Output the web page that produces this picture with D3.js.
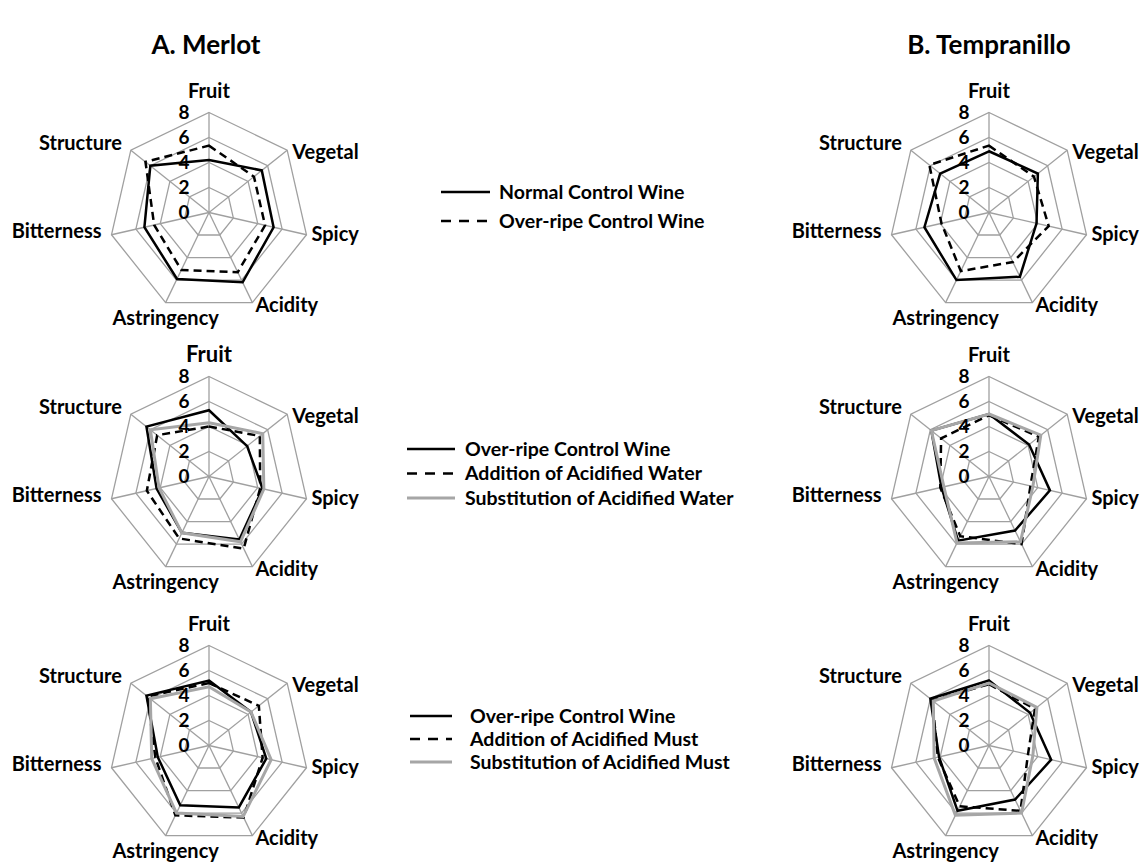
<!DOCTYPE html>
<html>
<head>
<meta charset="utf-8">
<script src="https://cdn.jsdelivr.net/npm/d3@7"></script>
<style>
  body { margin: 0; background: #fff; }
  text { font-family: Lato, "Open Sans", sans-serif; font-weight: bold; fill: #000; }
</style>
</head>
<body>
<svg id="chart_svg" width="1143" height="865"></svg>
<script>
const axes = ["Fruit", "Vegetal", "Spicy", "Acidity", "Astringency", "Bitterness", "Structure"];
const tickValues = [0, 2, 4, 6, 8];

// Merlot
const merlotNormal    = [4.2, 5.4, 5.3, 6.2, 5.9, 5.3, 6.0];
const merlotOverripe  = [5.35, 4.6, 4.6, 5.3, 5.1, 4.5, 6.5];
const merlotOverripe2 = [5.3, 3.9, 4.4, 5.6, 5.0, 4.3, 6.4];
const merlotAddWater  = [4.0, 5.2, 4.2, 6.4, 5.5, 5.1, 5.3];
const merlotSubWater  = [4.3, 5.5, 4.5, 5.8, 5.0, 4.1, 6.0];
const merlotOverripe3 = [5.2, 4.3, 4.7, 5.5, 5.3, 4.2, 6.4];
const merlotAddMust   = [5.0, 5.1, 4.4, 6.4, 6.2, 4.4, 6.3];
const merlotSubMust   = [4.7, 4.3, 5.1, 6.3, 6.0, 4.7, 6.0];

// Tempranillo
const tempNormal    = [4.9, 5.0, 3.9, 5.7, 6.0, 5.3, 5.0];
const tempOverripe  = [5.35, 4.6, 4.9, 4.4, 5.2, 3.9, 6.1];
const tempOverripe2 = [5.0, 4.1, 5.0, 4.8, 5.7, 3.9, 5.9];
const tempAddWater  = [4.9, 5.1, 3.4, 6.0, 5.3, 4.0, 4.9];
const tempSubWater  = [5.0, 5.3, 3.6, 5.8, 5.9, 3.7, 5.9];
const tempOverripe3 = [5.2, 4.2, 5.1, 4.8, 5.8, 4.1, 6.0];
const tempAddMust   = [4.9, 4.7, 3.2, 5.8, 5.4, 4.2, 5.8];
const tempSubMust   = [5.0, 4.9, 3.6, 6.0, 6.2, 4.5, 5.7];

const legend1 = ["Normal Control Wine", "Over-ripe Control Wine"];
const legend2 = ["Over-ripe Control Wine", "Addition of Acidified Water", "Substitution of Acidified Water"];
const legend3 = ["Over-ripe Control Wine", "Addition of Acidified Must", "Substitution of Acidified Must"];

const styles = {
  solid:  { stroke: "#000", width: 2.5, dash: null },
  dashed: { stroke: "#000", width: 2.5, dash: "8,5" },
  gray:   { stroke: "#a6a6a6", width: 3, dash: null }
};

const svg = d3.select("#chart_svg");
const R = 100;
const rScale = d3.scaleLinear().domain([0, 8]).range([0, R]);
const angle = d3.scaleLinear().domain([0, axes.length]).range([0, 2 * Math.PI]);

function point(i, v) {
  const a = angle(i);
  return [Math.sin(a) * rScale(v), -Math.cos(a) * rScale(v)];
}

// label placement per axis: [dx, dy (baseline), anchor]
const labelPos = [
  [0, -15, "middle"],
  [5, 9, "start"],
  [5, 6, "start"],
  [3, 9, "start"],
  [0, 22, "middle"],
  [-10, 3, "end"],
  [-9, 0, "end"]
];

function drawRadar(cx, cy, series, fruitSize) {
  const g = svg.append("g").attr("transform", "translate(" + cx + "," + cy + ")");

  // rings
  tickValues.slice(1).forEach(t => {
    g.append("path")
      .attr("d", d3.line()(axes.map((a, i) => point(i, t))) + "Z")
      .attr("fill", "none")
      .attr("stroke", "#a0a0a0")
      .attr("stroke-width", 1.3);
  });

  // spokes
  axes.forEach((a, i) => {
    const p = point(i, 8);
    g.append("line")
      .attr("x1", 0).attr("y1", 0)
      .attr("x2", p[0]).attr("y2", p[1])
      .attr("stroke", "#a0a0a0")
      .attr("stroke-width", 1.3);
  });

  // data lines
  const radial = d3.lineRadial()
    .angle((d, i) => angle(i))
    .radius(d => rScale(d))
    .curve(d3.curveLinearClosed);

  series.forEach(s => {
    const st = styles[s.style];
    g.append("path")
      .datum(s.values)
      .attr("d", radial)
      .attr("fill", "none")
      .attr("stroke", st.stroke)
      .attr("stroke-width", st.width)
      .attr("stroke-dasharray", st.dash)
      .attr("stroke-linejoin", "miter");
  });

  // tick labels
  g.selectAll(".tick_label")
    .data(tickValues)
    .enter()
    .append("text")
    .attr("class", "tick_label")
    .attr("x", -25)
    .attr("y", d => -rScale(d))
    .attr("dy", "0.36em")
    .attr("text-anchor", "middle")
    .style("font-size", "19px")
    .text(d => d);

  // axis labels
  axes.forEach((a, i) => {
    const p = point(i, 8);
    const lp = labelPos[i];
    g.append("text")
      .attr("x", p[0] + lp[0])
      .attr("y", p[1] + lp[1])
      .attr("text-anchor", lp[2])
      .style("font-size", (i === 0 && fruitSize ? fruitSize : 20) + "px")
      .text(a);
  });
}

function drawLegend(x, y, labels, types, step, lineLen, gap) {
  const g = svg.append("g").attr("transform", "translate(" + x + "," + y + ")");
  labels.forEach((lab, i) => {
    const st = styles[types[i]];
    g.append("line")
      .attr("x1", 0).attr("x2", lineLen)
      .attr("y1", i * step).attr("y2", i * step)
      .attr("stroke", st.stroke)
      .attr("stroke-width", types[i] === "gray" ? 3 : 2.5)
      .attr("stroke-dasharray", types[i] === "dashed" ? "10,8" : null);
    g.append("text")
      .attr("x", lineLen + gap)
      .attr("y", i * step)
      .attr("dy", "0.35em")
      .style("font-size", "19.5px")
      .text(lab);
  });
}

// titles
svg.append("text").attr("x", 206).attr("y", 54).attr("text-anchor", "middle")
  .style("font-size", "26px").text("A. Merlot");
svg.append("text").attr("x", 989).attr("y", 54).attr("text-anchor", "middle")
  .style("font-size", "26px").text("B. Tempranillo");

const xM = 209, xT = 989;
const rows = [212.5, 476.5, 745.5];

drawRadar(xM, rows[0], [
  { values: merlotNormal, style: "solid" },
  { values: merlotOverripe, style: "dashed" }
]);
drawRadar(xM, rows[1], [
  { values: merlotOverripe2, style: "solid" },
  { values: merlotAddWater, style: "dashed" },
  { values: merlotSubWater, style: "gray" }
], 22);
drawRadar(xM, rows[2], [
  { values: merlotOverripe3, style: "solid" },
  { values: merlotAddMust, style: "dashed" },
  { values: merlotSubMust, style: "gray" }
]);

drawRadar(xT, rows[0], [
  { values: tempNormal, style: "solid" },
  { values: tempOverripe, style: "dashed" }
]);
drawRadar(xT, rows[1], [
  { values: tempOverripe2, style: "solid" },
  { values: tempAddWater, style: "dashed" },
  { values: tempSubWater, style: "gray" }
]);
drawRadar(xT, rows[2], [
  { values: tempOverripe3, style: "solid" },
  { values: tempAddMust, style: "dashed" },
  { values: tempSubMust, style: "gray" }
]);

drawLegend(441, 192, legend1, ["solid", "dashed"], 29, 49, 9);
drawLegend(407, 449, legend2, ["solid", "dashed", "gray"], 24.5, 48, 10);
drawLegend(410, 716, legend3, ["solid", "dashed", "gray"], 23, 42, 18);
</script>
</body>
</html>
